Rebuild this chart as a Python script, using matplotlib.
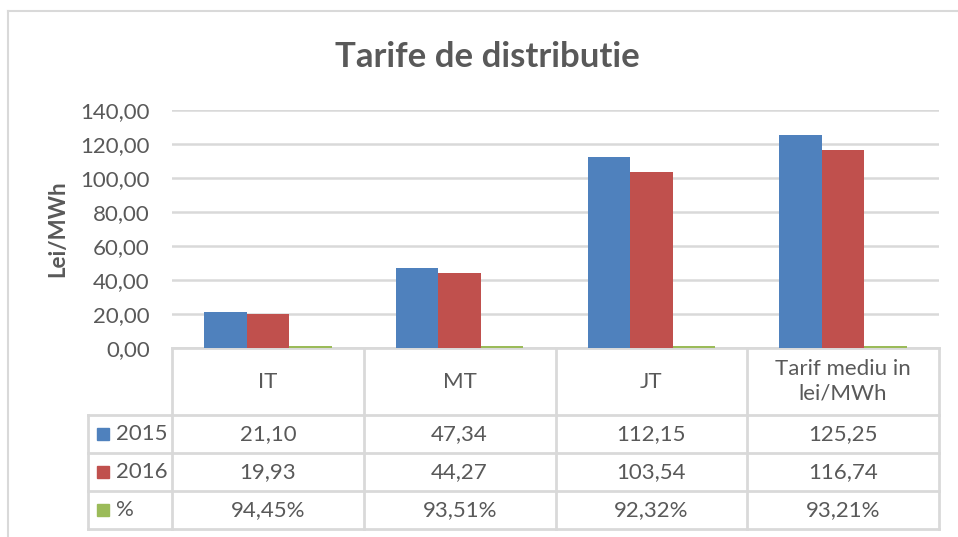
import matplotlib.pyplot as plt
import matplotlib.transforms as mtransforms
import numpy as np

categories = ['IT', 'MT', 'JT', 'Tarif mediu in\nlei/MWh']
series_names = ['2015', '2016', '%']
vals_2015 = [21.10, 47.34, 112.15, 125.25]
vals_2016 = [19.93, 44.27, 103.54, 116.74]
vals_pct = [94.45, 93.51, 92.32, 93.21]   # shown in %, plotted as fraction
yticks = [0, 20, 40, 60, 80, 100, 120, 140]

colors = ['#4F81BD', '#C0504D', '#9BBB59']
txt = '#595959'
grid = '#D9D9D9'
fs = 16

plt.rcParams['font.family'] = ['Lato', 'DejaVu Sans']

W, H = 958, 537
fig = plt.figure(figsize=(W / 100, H / 100), dpi=100)

# plot area in pixels
x0, x1 = 172, 939
y_top, y_zero = 110, 348
ax = fig.add_axes([x0 / W, 1 - y_zero / H, (x1 - x0) / W, (y_zero - y_top) / H])

def fmt(v):
    return f"{v:.2f}".replace('.', ',')

x = np.arange(len(categories)) + 0.5
bw = 0.222
series = [vals_2015, vals_2016, [v / 100 for v in vals_pct]]
for i, s in enumerate(series):
    ax.bar(x + (i - 1) * bw, s, bw, color=colors[i], zorder=3)

ax.set_xlim(0, len(categories))
ax.set_ylim(0, 140)
ax.set_yticks(yticks)
ax.set_yticklabels([fmt(t) for t in yticks], fontsize=fs, color=txt)
ax.tick_params(axis='y', length=0, pad=16)
ax.set_xticks([])
ax.grid(axis='y', color=grid, lw=1.8, zorder=0)
for sp in ax.spines.values():
    sp.set_visible(False)
ax.set_ylabel('Lei/MWh', fontsize=fs, fontweight='bold', color=txt, labelpad=9)

# data table below the plot (y in pixels converted to axes fraction)
ph = y_zero - y_top
pw = (x1 - x0) / len(categories)
def yf(py):
    return (y_zero - py) / ph

trans = mtransforms.blended_transform_factory(ax.transData, ax.transAxes)
row_edges = [348, 415, 453, 491, 529]
left_col = -(172 - 88) / pw
lk = dict(color=grid, lw=2, transform=trans, clip_on=False)

# horizontal lines
ax.plot([0, len(categories)], [yf(row_edges[0])] * 2, **lk)
for py in row_edges[1:]:
    ax.plot([left_col, len(categories)], [yf(py)] * 2, **lk)
# vertical lines
for c in range(len(categories) + 1):
    ax.plot([c, c], [yf(row_edges[0]), yf(row_edges[-1])], **lk)
ax.plot([left_col, left_col], [yf(row_edges[1]), yf(row_edges[-1])], **lk)

# header
for xi, cat in zip(x, categories):
    ax.text(xi, yf((row_edges[0] + row_edges[1]) / 2), cat, ha='center', va='center',
            fontsize=fs, color=txt, transform=trans, linespacing=1.3)

# rows
rows = [[fmt(v) for v in vals_2015], [fmt(v) for v in vals_2016],
        [fmt(v) + '%' for v in vals_pct]]
key_w = 12 / pw
for r, (name, row) in enumerate(zip(series_names, rows)):
    yc = yf((row_edges[r + 1] + row_edges[r + 2]) / 2)
    for xi, t in zip(x, row):
        ax.text(xi, yc, t, ha='center', va='center', fontsize=fs, color=txt, transform=trans)
    kx = left_col + 9 / pw
    ax.add_patch(plt.Rectangle((kx, yc - 6 / ph), key_w, 12 / ph, color=colors[r],
                               transform=trans, clip_on=False))
    ax.text(kx + key_w + 7 / pw, yc, name, ha='left', va='center',
            fontsize=fs, color=txt, transform=trans)

# title
fig.text(487 / W, 1 - 57 / H, 'Tarife de distributie', ha='center', va='center',
         fontsize=25, fontweight='bold', color=txt)

# chart border
fig.add_artist(plt.Line2D([8 / W, 1], [1 - 11 / H] * 2, color=grid, lw=1.5))
fig.add_artist(plt.Line2D([8 / W] * 2, [0, 1 - 11 / H], color=grid, lw=1.5))

fig.savefig('out.png', dpi=100)
